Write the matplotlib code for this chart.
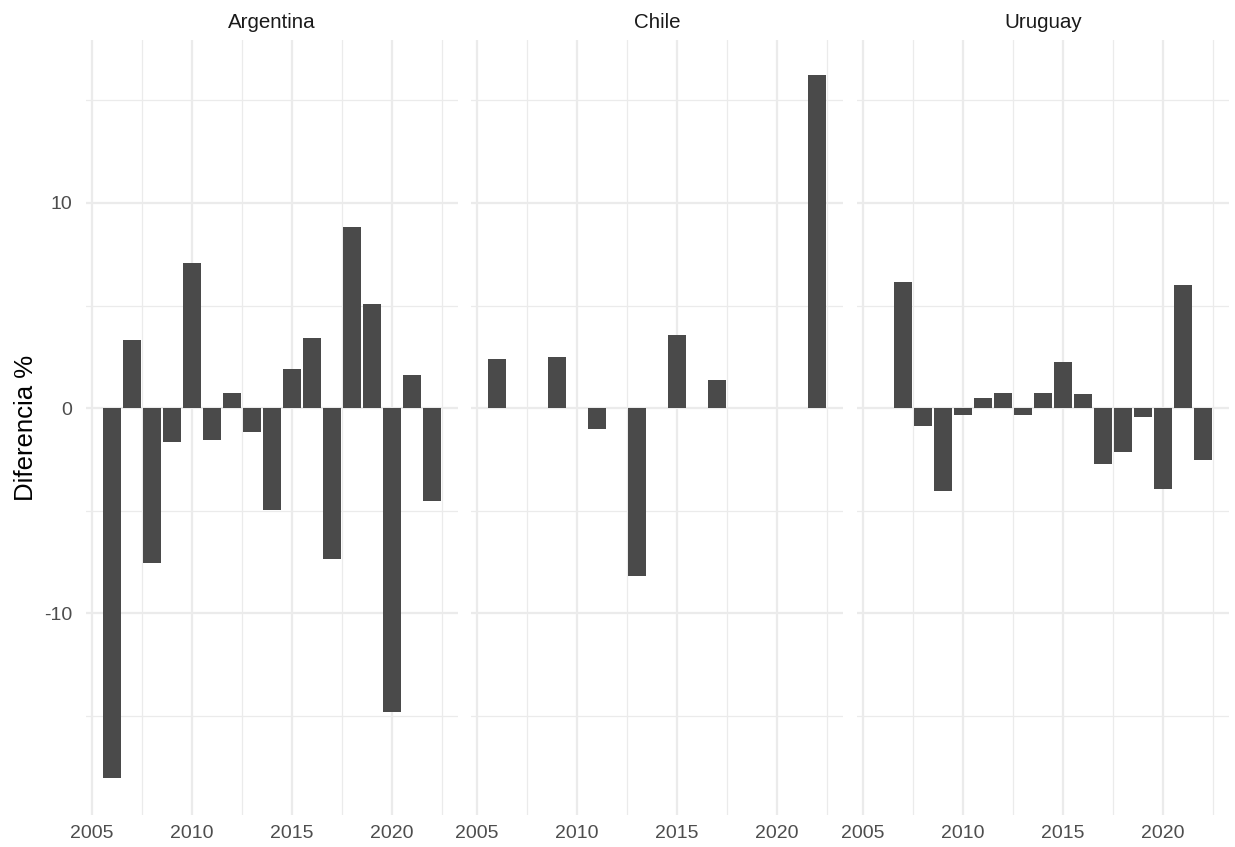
"""Facet bar chart: Diferencia % por año para Argentina, Chile y Uruguay."""

import matplotlib
matplotlib.use("Agg")
import matplotlib.pyplot as plt
from matplotlib.ticker import MultipleLocator

plt.rcParams["font.family"] = ["Liberation Sans", "DejaVu Sans"]
plt.rcParams["axes.unicode_minus"] = False

COUNTRIES = ["Argentina", "Chile", "Uruguay"]

ARG_YEARS = list(range(2006, 2023))
ARG_VALUES = [-18.05, 3.30, -7.56, -1.67, 7.06, -1.56, 0.75, -1.17, -4.99,
              1.88, 3.41, -7.37, 8.82, 5.07, -14.84, 1.61, -4.52]

CHL_YEARS = [2006, 2009, 2011, 2013, 2015, 2017, 2022]
CHL_VALUES = [2.39, 2.47, -1.04, -8.21, 3.56, 1.36, 16.22]

URY_YEARS = list(range(2007, 2023))
URY_VALUES = [6.14, -0.86, -4.05, -0.34, 0.50, 0.72, -0.34, 0.72, 2.26,
              0.67, -2.72, -2.15, -0.44, -3.96, 6.00, -2.54]

SERIES = {
    "Argentina": (ARG_YEARS, ARG_VALUES),
    "Chile": (CHL_YEARS, CHL_VALUES),
    "Uruguay": (URY_YEARS, URY_VALUES),
}

BAR_COLOR = "#4a4a4a"
GRID_COLOR = "#ebebeb"
TEXT_COLOR = "#4d4d4d"

W, H = 1235, 847
fig = plt.figure(figsize=(W / 100, H / 100), dpi=100)

panel_lefts = [86, 471, 857]
panel_w = 372
panel_top, panel_bottom = 40, 815

for i, (country, left) in enumerate(zip(COUNTRIES, panel_lefts)):
    ax = fig.add_axes([left / W, (H - panel_bottom) / H, panel_w / W,
                       (panel_bottom - panel_top) / H])
    years, values = SERIES[country]
    ax.bar(years, values, width=0.9, color=BAR_COLOR, linewidth=0, zorder=3)

    ax.set_xlim(2004.705, 2023.295)
    ax.set_ylim(-19.85, 17.95)
    ax.xaxis.set_major_locator(MultipleLocator(5))
    ax.xaxis.set_minor_locator(MultipleLocator(2.5))
    ax.yaxis.set_major_locator(MultipleLocator(10))
    ax.yaxis.set_minor_locator(MultipleLocator(5))
    ax.grid(which="major", color=GRID_COLOR, linewidth=1.6, zorder=0)
    ax.grid(which="minor", color=GRID_COLOR, linewidth=0.9, zorder=0)
    ax.set_axisbelow(True)
    for spine in ax.spines.values():
        spine.set_visible(False)
    ax.tick_params(which="both", length=0)
    ax.tick_params(axis="x", labelsize=14, labelcolor=TEXT_COLOR, pad=7)
    ax.tick_params(axis="y", labelsize=14, labelcolor=TEXT_COLOR, pad=10)
    if i > 0:
        ax.set_yticklabels([])
    else:
        ax.set_ylabel("Diferencia %", fontsize=18.5, color="#000000", labelpad=4)

    ax.text(0.5, 1 + 17 / (panel_bottom - panel_top), country,
            transform=ax.transAxes, ha="center", va="center",
            fontsize=14.8, color="#1a1a1a")

fig.savefig("out.png", dpi=100, facecolor="white")
